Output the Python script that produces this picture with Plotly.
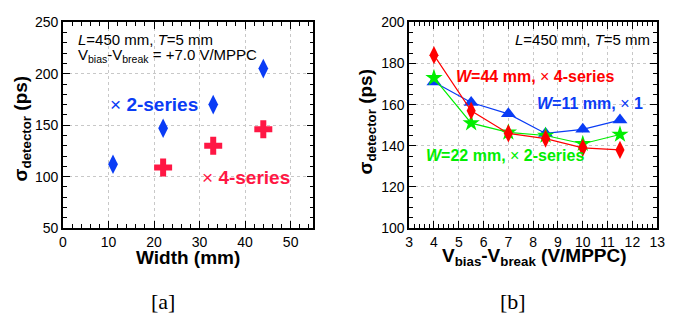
import plotly.graph_objects as go

# ---- panel [a]: resolution vs. scintillator width ----
width_2series = [11, 22, 33, 44]
sigma_2series = [112, 147, 170, 205]
width_4series = [22, 33, 44]
sigma_4series = [109, 130, 146]

# ---- panel [b]: resolution vs. over-voltage ----
vover = [4, 5.5, 7, 8.5, 10, 11.5]
sigma_w44 = [184, 157, 146, 143.5, 139, 138]
sigma_w11 = [171, 161, 155.5, 146, 148, 152.5]
sigma_w22 = [173, 151, 146.5, 145, 141, 145.5]

BLUE = "#0a3cf5"
CRIMSON = "#ff1744"
RED = "#ff0000"
GREEN = "#00ee00"
FONT = "Liberation Sans, Arial, sans-serif"

W, H = 675, 326

fig = go.Figure()

fig.add_trace(go.Scatter(x=width_2series, y=sigma_2series, mode="markers",
                         marker=dict(symbol="diamond-tall", size=14, color=BLUE),
                         xaxis="x", yaxis="y"))
fig.add_trace(go.Scatter(x=width_4series, y=sigma_4series, mode="markers",
                         marker=dict(symbol="cross", size=15, color=CRIMSON),
                         xaxis="x", yaxis="y"))

fig.add_trace(go.Scatter(x=vover, y=sigma_w11, mode="lines+markers",
                         line=dict(color=BLUE, width=1.2),
                         marker=dict(symbol="triangle-up", size=13, color=BLUE),
                         xaxis="x2", yaxis="y2"))
fig.add_trace(go.Scatter(x=vover, y=sigma_w22, mode="lines+markers",
                         line=dict(color=GREEN, width=1.2),
                         marker=dict(symbol="star", size=13, color=GREEN),
                         xaxis="x2", yaxis="y2"))
fig.add_trace(go.Scatter(x=vover, y=sigma_w44, mode="lines+markers",
                         line=dict(color=RED, width=1.2),
                         marker=dict(symbol="diamond-tall", size=13, color=RED),
                         xaxis="x2", yaxis="y2"))


def px_x(p):
    return p / W


def px_y(p):
    return 1 - p / H


ydom = [px_y(231.5), px_y(15)]
common = dict(showline=True, linecolor="black", linewidth=1.5, mirror="allticks",
              ticks="inside", ticklen=7, tickwidth=1, tickcolor="black",
              showgrid=True, gridcolor="#c8c8c8", griddash="dot", gridwidth=1,
              zeroline=False,
              tickfont=dict(family=FONT, size=14, color="black"))

fig.update_layout(
    width=W, height=H, margin=dict(l=0, r=0, t=0, b=0),
    paper_bgcolor="white", plot_bgcolor="white", showlegend=False,
    xaxis=dict(domain=[px_x(60), px_x(315)], range=[0, 55], dtick=10, tick0=0,
               minor=dict(ticks="inside", ticklen=4, dtick=2, tickcolor="black"),
               anchor="y", **common),
    yaxis=dict(domain=ydom, range=[50, 250], dtick=50, tick0=0,
               minor=dict(ticks="inside", ticklen=4, dtick=10, tickcolor="black"),
               anchor="x", **common),
    xaxis2=dict(domain=[px_x(412.5), px_x(665)], range=[3, 13.0001], dtick=1, tick0=0,
                minor=dict(ticks="inside", ticklen=4, dtick=0.2, tickcolor="black"),
                anchor="y2", **common),
    yaxis2=dict(domain=ydom, range=[100, 200], dtick=20, tick0=0,
                minor=dict(ticks="inside", ticklen=4, dtick=5, tickcolor="black"),
                anchor="x2", **common),
)

ann = []


def text(x, y, s, size, color="black", xref="x", yref="y", xanchor="left",
         family=FONT, angle=0):
    ann.append(dict(x=x, y=y, xref=xref, yref=yref, text=s, showarrow=False,
                    xanchor=xanchor, yanchor="middle", textangle=angle,
                    font=dict(family=family, size=size, color=color)))


# panel [a] labels
text(2.8, 233.4, "<i>L</i>=450 mm, <i>T</i>=5 mm", 15)
text(2.8, 217.5, "V<sub>bias</sub>-V<sub>break</sub> = +7.0 V/MPPC", 15)
text(9.9, 169.7, "× <b>2-series</b>", 19, BLUE)
text(30, 99.6, "× <b>4-series</b>", 19, CRIMSON)

# panel [b] labels
text(12.78, 191.7, "<i>L</i>=450 mm, <i>T</i>=5 mm", 15, xref="x2", yref="y2",
     xanchor="right")
text(4.8, 173.6, "<b><i>W</i>=44 mm, </b>× <b>4-series</b>", 16, RED,
     xref="x2", yref="y2")
text(8.06, 160.6, "<b><i>W</i>=11 mm, </b>× <b>1</b>", 16, BLUE,
     xref="x2", yref="y2")
text(3.58, 135.2, "<b><i>W</i>=22 mm, </b>× <b>2-series</b>", 16, GREEN,
     xref="x2", yref="y2")

# axis titles
ytitle = "<b>σ<sub>detector</sub> (ps)</b>"
text(px_x(187), px_y(262), "<b>Width (mm)</b>", 19, xref="paper", yref="paper",
     xanchor="center")
text(px_x(540), px_y(262), "<b>V<sub>bias</sub>-V<sub>break</sub> (V/MPPC)</b>", 19,
     xref="paper", yref="paper", xanchor="center")
text(px_x(18), px_y(127), ytitle, 19, xref="paper", yref="paper",
     xanchor="center", angle=-90)
text(px_x(370), px_y(119), ytitle, 19, xref="paper", yref="paper",
     xanchor="center", angle=-90)

# panel captions
text(px_x(162), px_y(309), "[a]", 22, xref="paper", yref="paper",
     xanchor="center", family="Liberation Serif")
text(px_x(518), px_y(309), "[b]", 22, xref="paper", yref="paper",
     xanchor="center", family="Liberation Serif")

fig.update_layout(annotations=ann)
fig.write_html("out.html")
